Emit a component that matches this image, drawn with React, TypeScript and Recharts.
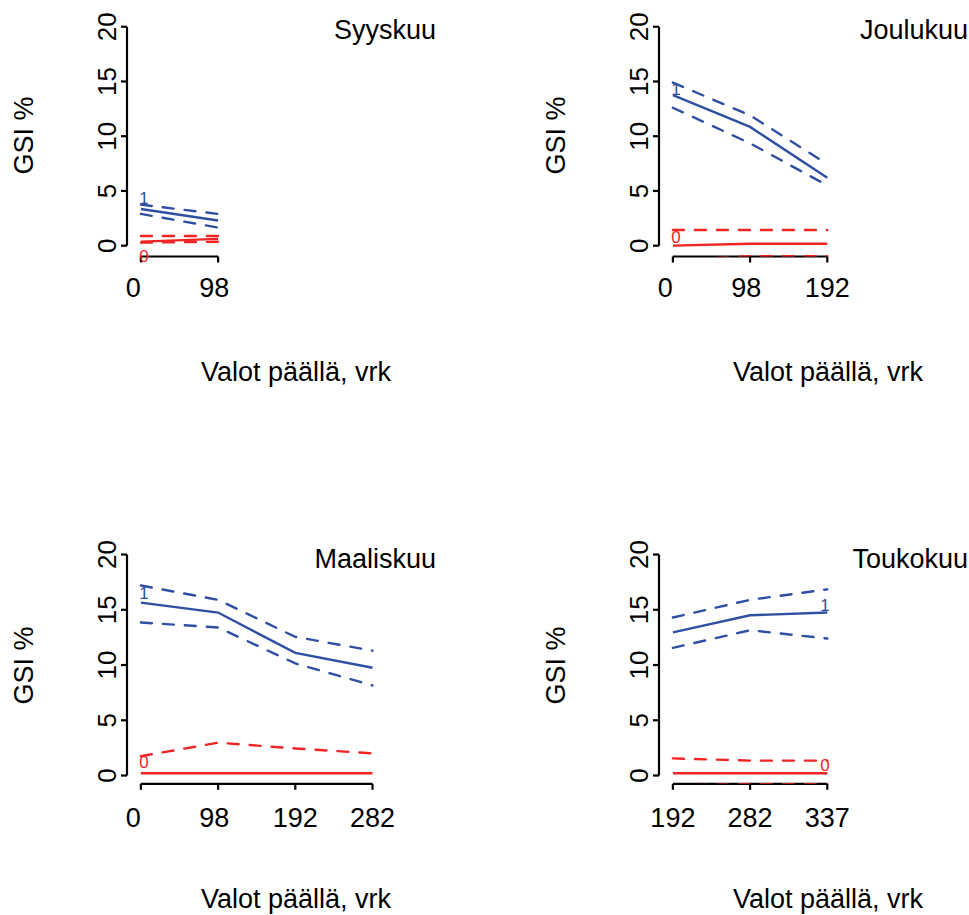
import React from 'react';
import { LineChart, Line, XAxis, YAxis, ReferenceLine, ReferenceDot } from 'recharts';

const FONT = '"Liberation Sans", Arial, Helvetica, sans-serif';
const BLUE = '#2E4FA2';
const RED = '#F02424';
const BLACK = '#000000';

// ---- Syyskuu ----
const syyskuuX = ['0', '98'];
const syyskuuBlue = [3.35, 2.3];
const syyskuuBlueHi = [3.75, 2.9];
const syyskuuBlueLo = [2.9, 1.65];
const syyskuuRed = [0.37, 0.62];
const syyskuuRedHi = [0.88, 0.88];
const syyskuuRedLo = [0.28, 0.36];

// ---- Joulukuu ----
const joulukuuX = ['0', '98', '192'];
const joulukuuBlue = [13.75, 10.85, 6.2];
const joulukuuBlueHi = [14.9, 11.9, 7.45];
const joulukuuBlueLo = [12.6, 9.35, 5.5];
const joulukuuRed = [0.0, 0.18, 0.18];
const joulukuuRedHi = [1.43, 1.43, 1.43];
const joulukuuRedLo = [-1.25, -0.97, -0.97];

// ---- Maaliskuu ----
const maaliskuuX = ['0', '98', '192', '282'];
const maaliskuuBlue = [15.65, 14.75, 11.1, 9.75];
const maaliskuuBlueHi = [17.2, 15.9, 12.55, 11.3];
const maaliskuuBlueLo = [13.85, 13.4, 10.15, 8.15];
const maaliskuuRed = [0.2, 0.2, 0.2, 0.2];
const maaliskuuRedHi = [1.75, 2.97, 2.45, 2.0];
const maaliskuuRedLo = [-1.3, -1.1, -1.2, -1.3];

// ---- Toukokuu ----
const toukokuuX = ['192', '282', '337'];
const toukokuuBlue = [12.95, 14.5, 14.75];
const toukokuuBlueHi = [14.3, 15.9, 16.85];
const toukokuuBlueLo = [11.55, 13.15, 12.4];
const toukokuuRed = [0.2, 0.2, 0.2];
const toukokuuRedHi = [1.55, 1.35, 1.35];
const toukokuuRedLo = [-0.9, -0.78, -0.78];

// curve tag positions (x index, y value)
const syyskuuTags = { blue: [1.04, 4.36], red: [1.04, -0.95] };
const joulukuuTags = { blue: [1.04, 14.36], red: [1.04, 0.82] };
const maaliskuuTags = { blue: [1.04, 16.56], red: [1.04, 1.22] };
const toukokuuTags = { blue: [2.97, 15.48], red: [2.97, 0.95] };

const Y_TICKS = [0, 5, 10, 15, 20];
const X_DOMAIN: [number, number] = [0.82, 5.198];
const CHART_W = 484;
const PLOT_LEFT = 127;
const PLOT_W = 338;

const ROW_TOP = { top: 0, height: 460, mt: 18, plotH: 238.5, yMin: -0.99, yMax: 20.8, xTickBase: 296.7, titleBase: 38.5, xlabBase: 381, ylabCenter: 135.5 };
const ROW_BOTTOM = { top: 528, height: 387, mt: 17.7, plotH: 238.1, yMin: -0.75, yMax: 20.8, xTickBase: 298.7, titleBase: 40.3, xlabBase: 379.5, ylabCenter: 137.5 };

const XTick = (props: any) => {
  const { x, payload, labels, base } = props;
  const s = labels[Math.round(payload.value) - 1] ?? '';
  const shift = (3 - s.length) * -3.8;
  return (
    <text x={x + shift} y={base} textAnchor="middle" fontFamily={FONT} fontSize={27} fill={BLACK}>
      {s}
    </text>
  );
};

const YTick = (props: any) => {
  const { y, payload } = props;
  return (
    <text transform={`translate(115.5, ${y}) rotate(-90)`} textAnchor="middle" fontFamily={FONT} fontSize={26} fill={BLACK}>
      {payload.value}
    </text>
  );
};

const YTitle = (props: any) => (
  <text transform={`translate(33, ${props.cy}) rotate(-90)`} textAnchor="middle" fontFamily={FONT} fontSize={27} fill={BLACK}>
    GSI %
  </text>
);

const XTitle = (props: any) => (
  <text x={PLOT_LEFT + PLOT_W / 2} y={props.base} textAnchor="middle" fontFamily={FONT} fontSize={27} fill={BLACK}>
    Valot päällä, vrk
  </text>
);

const tagShape = (label: string, color: string) => (p: any) => (
  <text x={p.cx} y={p.cy} dy="0.36em" textAnchor="middle" fontFamily={FONT} fontSize={17} fill={color}>
    {label}
  </text>
);

function Panel(props: any) {
  const { title, xLabels, blue, blueHi, blueLo, red, redHi, redLo, tags, row, left } = props;
  const data = xLabels.map((lab: string, k: number) => ({
    i: k + 1,
    bm: blue[k], bh: blueHi[k], bl: blueLo[k],
    rm: red[k], rh: redHi[k], rl: redLo[k],
  }));
  const n = xLabels.length;
  const mb = row.height - row.mt - row.plotH - 1;
  const mr = CHART_W - PLOT_LEFT - PLOT_W;
  const dash = '11 11';
  const lw = 2.4;
  return (
    <div style={{ position: 'absolute', left, top: row.top, width: CHART_W, height: row.height }}>
      <LineChart width={CHART_W} height={row.height} data={data}
        margin={{ top: row.mt, right: mr, bottom: mb, left: PLOT_LEFT - 1 }}>
        <XAxis type="number" dataKey="i" domain={X_DOMAIN} allowDataOverflow ticks={data.map((d: any) => d.i)}
          interval={0} height={1} axisLine={false} tickSize={6}
          tickLine={{ stroke: BLACK, strokeWidth: 2.2 }}
          tick={<XTick labels={xLabels} base={row.xTickBase} />}
          label={<XTitle base={row.xlabBase} />} />
        <YAxis type="number" domain={[row.yMin, row.yMax]} allowDataOverflow ticks={Y_TICKS}
          interval={0} width={1} axisLine={false} tickSize={6}
          tickLine={{ stroke: BLACK, strokeWidth: 2.2 }}
          tick={<YTick />}
          label={<YTitle cy={row.ylabCenter} />} />
        <ReferenceLine segment={[{ x: X_DOMAIN[0], y: 0 }, { x: X_DOMAIN[0], y: 20 }]} stroke={BLACK} strokeWidth={2.2} ifOverflow="visible" />
        <ReferenceLine segment={[{ x: 1, y: row.yMin }, { x: n, y: row.yMin }]} stroke={BLACK} strokeWidth={2.2} ifOverflow="visible" />
        <Line type="linear" dataKey="rh" stroke={RED} strokeWidth={lw} strokeDasharray={dash} strokeLinecap="round" dot={false} isAnimationActive={false} />
        <Line type="linear" dataKey="rl" stroke={RED} strokeWidth={lw} strokeDasharray={dash} strokeLinecap="round" dot={false} isAnimationActive={false} />
        <Line type="linear" dataKey="rm" stroke={RED} strokeWidth={lw} dot={false} isAnimationActive={false} />
        <Line type="linear" dataKey="bh" stroke={BLUE} strokeWidth={lw} strokeDasharray={dash} strokeLinecap="round" dot={false} isAnimationActive={false} />
        <Line type="linear" dataKey="bl" stroke={BLUE} strokeWidth={lw} strokeDasharray={dash} strokeLinecap="round" dot={false} isAnimationActive={false} />
        <Line type="linear" dataKey="bm" stroke={BLUE} strokeWidth={lw} dot={false} isAnimationActive={false} />
        <ReferenceDot x={tags.blue[0]} y={tags.blue[1]} r={0} ifOverflow="visible" shape={tagShape('1', BLUE)} />
        <ReferenceDot x={tags.red[0]} y={tags.red[1]} r={0} ifOverflow="visible" shape={tagShape('0', RED)} />
      </LineChart>
      <svg width={CHART_W} height={row.height} style={{ position: 'absolute', left: 0, top: 0, pointerEvents: 'none' }}>
        <text x={436} y={row.titleBase} textAnchor="end" fontFamily={FONT} fontSize={27} fill={BLACK}>{title}</text>
      </svg>
    </div>
  );
}

export default function App() {
  return (
    <div style={{ position: 'absolute', left: 0, top: 0, width: 969, height: 915, overflow: 'hidden', background: '#fff' }}>
      <Panel title="Syyskuu" xLabels={syyskuuX} blue={syyskuuBlue} blueHi={syyskuuBlueHi} blueLo={syyskuuBlueLo}
        red={syyskuuRed} redHi={syyskuuRedHi} redLo={syyskuuRedLo} tags={syyskuuTags} row={ROW_TOP} left={0} />
      <Panel title="Joulukuu" xLabels={joulukuuX} blue={joulukuuBlue} blueHi={joulukuuBlueHi} blueLo={joulukuuBlueLo}
        red={joulukuuRed} redHi={joulukuuRedHi} redLo={joulukuuRedLo} tags={joulukuuTags} row={ROW_TOP} left={532} />
      <Panel title="Maaliskuu" xLabels={maaliskuuX} blue={maaliskuuBlue} blueHi={maaliskuuBlueHi} blueLo={maaliskuuBlueLo}
        red={maaliskuuRed} redHi={maaliskuuRedHi} redLo={maaliskuuRedLo} tags={maaliskuuTags} row={ROW_BOTTOM} left={0} />
      <Panel title="Toukokuu" xLabels={toukokuuX} blue={toukokuuBlue} blueHi={toukokuuBlueHi} blueLo={toukokuuBlueLo}
        red={toukokuuRed} redHi={toukokuuRedHi} redLo={toukokuuRedLo} tags={toukokuuTags} row={ROW_BOTTOM} left={532} />
    </div>
  );
}
